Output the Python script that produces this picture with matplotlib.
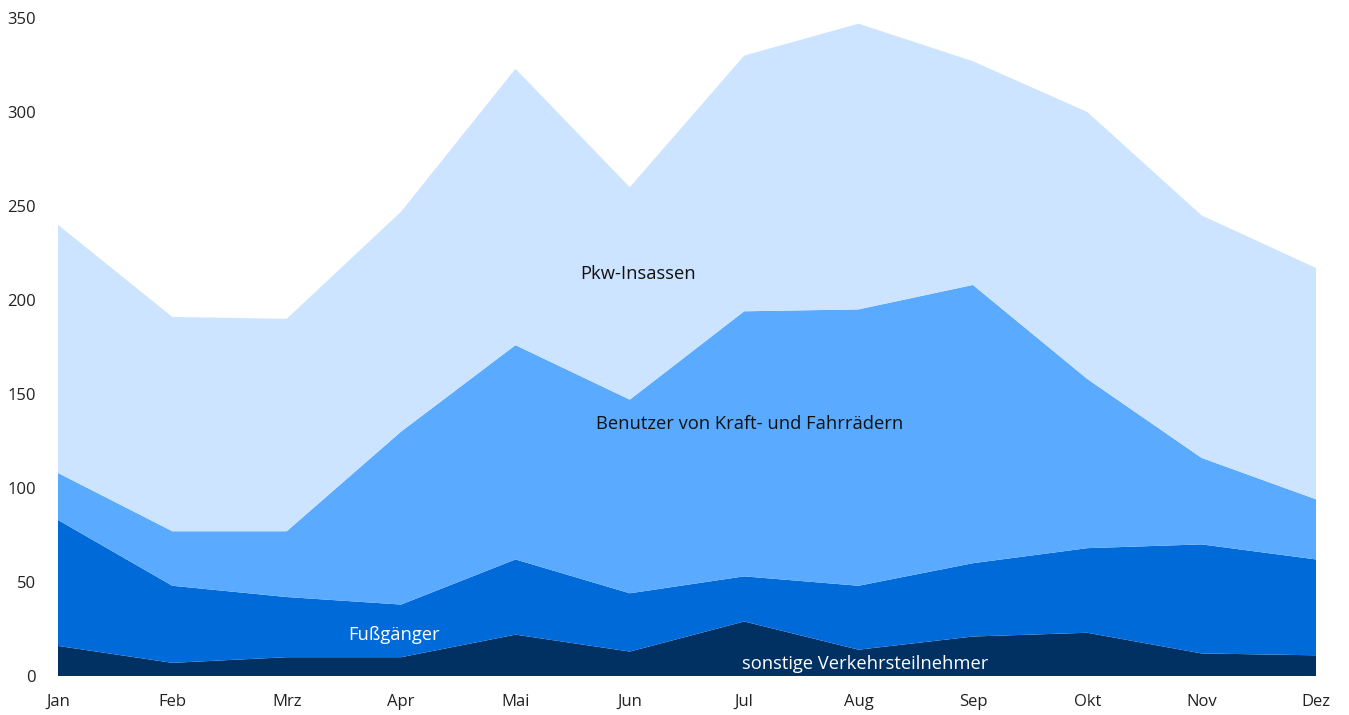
import matplotlib
matplotlib.use("Agg")
import matplotlib.pyplot as plt
import numpy as np

months = ["Jan", "Feb", "Mrz", "Apr", "Mai", "Jun", "Jul", "Aug", "Sep", "Okt", "Nov", "Dez"]
sonstige = [16, 7, 10, 10, 22, 13, 29, 14, 21, 23, 12, 11]
fussgaenger = [67, 41, 32, 28, 40, 31, 24, 34, 39, 45, 58, 51]
zweirad = [25, 29, 35, 92, 114, 103, 141, 147, 148, 90, 46, 32]
pkw = [132, 114, 113, 117, 147, 113, 136, 152, 119, 142, 129, 123]
series_names = ["sonstige Verkehrsteilnehmer", "Fußgänger", "Benutzer von Kraft- und Fahrrädern", "Pkw-Insassen"]
colors = ["#003162", "#006ad8", "#5aabff", "#cce4ff"]
yticks = [0, 50, 100, 150, 200, 250, 300, 350]

plt.rcParams['font.family'] = ['Open Sans', 'DejaVu Sans']

fig = plt.figure(figsize=(13.49, 7.15), dpi=100)
ax = fig.add_axes([58/1349, 39/715, (1316-58)/1349, (676-18)/715])
x = np.arange(len(months))
ax.stackplot(x, sonstige, fussgaenger, zweirad, pkw, colors=colors, linewidth=0)

ax.set_xlim(0, len(months) - 1)
ax.set_ylim(0, 350)
ax.set_xticks(x)
ax.set_xticklabels(months)
ax.set_yticks(yticks)
ax.tick_params(length=0, labelsize=12, colors="#222222")
ax.tick_params(axis='y', pad=16)
ax.tick_params(axis='x', pad=13)
for s in ax.spines.values():
    s.set_visible(False)

fs = 13.2
ax.text(5.07, 214, series_names[3], ha="center", va="center", fontsize=fs, color="#111111")
ax.text(6.05, 134, series_names[2], ha="center", va="center", fontsize=fs, color="#111111")
ax.text(2.94, 22, series_names[1], ha="center", va="center", fontsize=fs, color="white")
ax.text(7.06, 6.5, series_names[0], ha="center", va="center", fontsize=fs, color="white")

fig.savefig("out.png", dpi=100)
